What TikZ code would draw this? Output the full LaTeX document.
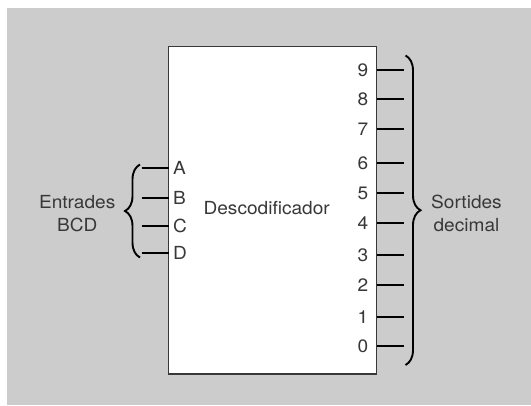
\documentclass[tikz,border=0pt]{standalone}
\usepackage{fontspec}
\setmainfont{TeX Gyre Heros}[FakeStretch=1.06]
\usetikzlibrary{decorations.pathreplacing}
\definecolor{panel}{HTML}{CCCCCC}
\definecolor{ink}{HTML}{383838}
\tikzset{
  lbl/.style={inner sep=0pt, text=ink, font=\fontsize{18}{23}\selectfont},
  pin/.style={line width=1.8pt, black},
  curly/.style={line width=1.9pt, black, decorate,
                decoration={brace, amplitude=15pt}},
  block/.style={draw=ink, line width=1.1pt, fill=white}
}
\begin{document}
\begin{tikzpicture}[x=1pt, y=-1pt]
  \useasboundingbox (0,0) rectangle (531,405);
  \fill[panel] (7,8) rectangle (531,405);

  % decoder block
  \draw[block] (168.6,46.7) rectangle (376.9,374);
  \node[lbl] (dec) at (266.7,208) {Descodificador};

  % BCD inputs
  \foreach \name/\y in {A/168, B/198, C/226, D/253}{
    \node[lbl, anchor=west] (in\name) at (173,\y) {\name};
    \coordinate (e\name) at (168.6,\y);
    \coordinate (s\name) at (141.5,\y);
    \draw[pin] (s\name) -- (e\name);
  }
  \draw[curly] (140,257.5) -- (140,164.5);
  \node[lbl, align=center] (inlbl) at (77.2,213.5) {Entrades\\BCD};

  % decimal outputs
  \foreach \d/\y in {9/70, 8/99, 7/129, 6/163, 5/193, 4/223,
                     3/255, 2/285, 1/317, 0/346}{
    \node[lbl, anchor=east] (out\d) at (368.5,\y) {\d};
    \coordinate (o\d) at (376.9,\y);
    \coordinate (t\d) at (404.3,\y);
    \draw[pin] (o\d) -- (t\d);
  }
  \draw[curly] (405.5,55.5) -- (405.5,365);
  \node[lbl, align=center] (outlbl) at (466.5,213.5) {Sortides\\decimal};
\end{tikzpicture}
\end{document}
